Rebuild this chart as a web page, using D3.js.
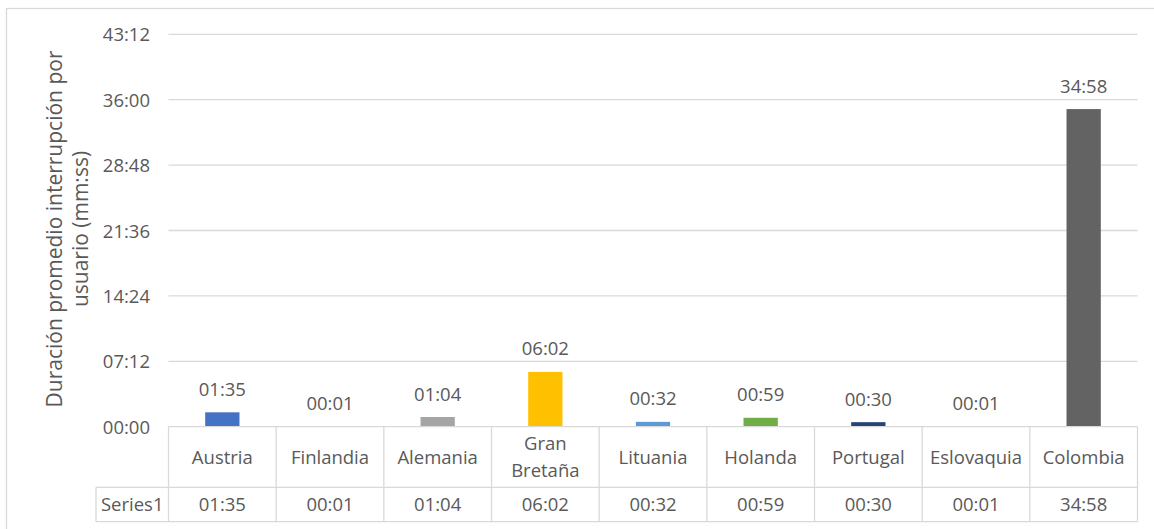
<!DOCTYPE html>
<html>
<head>
<meta charset="utf-8">
<script src="https://cdn.jsdelivr.net/npm/d3@7/dist/d3.min.js"></script>
<style>
  html, body { margin: 0; padding: 0; background: #fff; }
  svg { display: block; }
  text { font-family: "Open Sans", "Noto Sans", sans-serif; fill: #595959; }
</style>
</head>
<body>
<svg id="chart" width="1154" height="529"></svg>
<script>
// Average interruption duration per user, in seconds
const categories = ["Austria", "Finlandia", "Alemania", "Gran Bretaña", "Lituania", "Holanda", "Portugal", "Eslovaquia", "Colombia"];
const seconds = [95, 1, 64, 362, 32, 59, 30, 1, 2098];
const barColors = ["#4472C4", "#ED7D31", "#A5A5A5", "#FFC000", "#5B9BD5", "#70AD47", "#264478", "#9E480E", "#636363"];
const tickSeconds = [0, 432, 864, 1296, 1728, 2160, 2592];
const seriesName = "Series1";
const titleLines = ["Duración promedio interrupción por", "usuario (mm:ss)"];

const fmt = s => {
  const m = Math.floor(s / 60), r = s % 60;
  return String(m).padStart(2, "0") + ":" + String(r).padStart(2, "0");
};

const svg = d3.select("#chart");
const gridColor = "#D9D9D9";
const labelSize = 18.5;

const plot = { left: 168.5, right: 1137.5, top: 34.3, bottom: 426.7 };
const table = { headerLeft: 96, rowTop: 487.3, bottom: 521.7 };

// chart area frame
svg.append("rect")
  .attr("x", 6.5).attr("y", 8.5).attr("width", 1170).attr("height", 560)
  .attr("fill", "none").attr("stroke", gridColor).attr("stroke-width", 1.3);

const x = d3.scaleBand().domain(categories).range([plot.left, plot.right]).paddingInner(0).paddingOuter(0);
const y = d3.scaleLinear().domain([0, 2592]).range([plot.bottom, plot.top]);

// horizontal gridlines and value axis
const yAxis = d3.axisLeft(y).tickValues(tickSeconds).tickFormat(fmt).tickSize(0).tickPadding(18.5);
const gy = svg.append("g").attr("transform", `translate(${plot.left},0)`).call(yAxis);
gy.select(".domain").remove();
gy.selectAll(".tick text")
  .attr("font-size", labelSize)
  .attr("fill", "#595959")
  .style("font-family", '"Open Sans", sans-serif')
  .attr("dy", "0.36em");

svg.append("g").selectAll("line").data(tickSeconds.filter(t => t > 0)).join("line")
  .attr("x1", plot.left).attr("x2", plot.right)
  .attr("y1", d => y(d)).attr("y2", d => y(d))
  .attr("stroke", gridColor).attr("stroke-width", 1.3);

// bars
const barW = x.bandwidth() / 3.14;
svg.append("g").selectAll("rect").data(categories).join("rect")
  .attr("x", d => x(d) + x.bandwidth() / 2 - barW / 2)
  .attr("width", barW)
  .attr("y", (d, i) => y(seconds[i]))
  .attr("height", (d, i) => y(0) - y(seconds[i]))
  .attr("fill", (d, i) => barColors[i]);

// value labels above bars
svg.append("g").selectAll("text").data(categories).join("text")
  .attr("x", d => x(d) + x.bandwidth() / 2)
  .attr("y", (d, i) => y(seconds[i]) - 16.5)
  .attr("text-anchor", "middle")
  .attr("font-size", labelSize)
  .text((d, i) => fmt(seconds[i]));

// data table
const tg = svg.append("g").attr("stroke", gridColor).attr("stroke-width", 1.3);
tg.append("line").attr("x1", plot.left).attr("x2", plot.right).attr("y1", plot.bottom).attr("y2", plot.bottom);
tg.append("line").attr("x1", table.headerLeft).attr("x2", plot.right).attr("y1", table.rowTop).attr("y2", table.rowTop);
tg.append("line").attr("x1", table.headerLeft).attr("x2", plot.right).attr("y1", table.bottom).attr("y2", table.bottom);
tg.append("line").attr("x1", table.headerLeft).attr("x2", table.headerLeft).attr("y1", table.rowTop).attr("y2", table.bottom);
const colEdges = categories.map(c => x(c)).concat([plot.right]);
tg.selectAll(".col").data(colEdges).join("line")
  .attr("x1", d => d).attr("x2", d => d)
  .attr("y1", plot.bottom).attr("y2", table.bottom);

// category names, wrapped when wider than the column
const catMid = (plot.bottom + table.rowTop) / 2;
const lineGap = 26.7;
svg.append("g").selectAll("text").data(categories).join("text")
  .attr("text-anchor", "middle")
  .attr("font-size", labelSize)
  .each(function (d) {
    const t = d3.select(this);
    const cx = x(d) + x.bandwidth() / 2;
    t.text(d);
    let lines = [d];
    if (this.getComputedTextLength() > x.bandwidth() - 6) lines = d.split(" ");
    t.text(null);
    const start = catMid - (lines.length - 1) * lineGap / 2;
    lines.forEach((ln, k) => {
      t.append("tspan").attr("x", cx).attr("y", start + k * lineGap).attr("dy", "0.36em").text(ln);
    });
  });

// series row
const rowMid = (table.rowTop + table.bottom) / 2;
svg.append("text")
  .attr("x", (table.headerLeft + plot.left) / 2).attr("y", rowMid).attr("dy", "0.36em")
  .attr("text-anchor", "middle").attr("font-size", labelSize)
  .text(seriesName);
svg.append("g").selectAll("text").data(categories).join("text")
  .attr("x", d => x(d) + x.bandwidth() / 2)
  .attr("y", rowMid).attr("dy", "0.36em")
  .attr("text-anchor", "middle").attr("font-size", labelSize)
  .text((d, i) => fmt(seconds[i]));

// value axis title
const titleMid = 229;
const title = svg.append("g");
title.selectAll("text").data(titleLines).join("text")
  .attr("transform", (d, i) => `translate(${61.5 + i * 26},${titleMid}) rotate(-90)`)
  .attr("text-anchor", "middle")
  .attr("font-size", 21)
  .text(d => d);
</script>
</body>
</html>
